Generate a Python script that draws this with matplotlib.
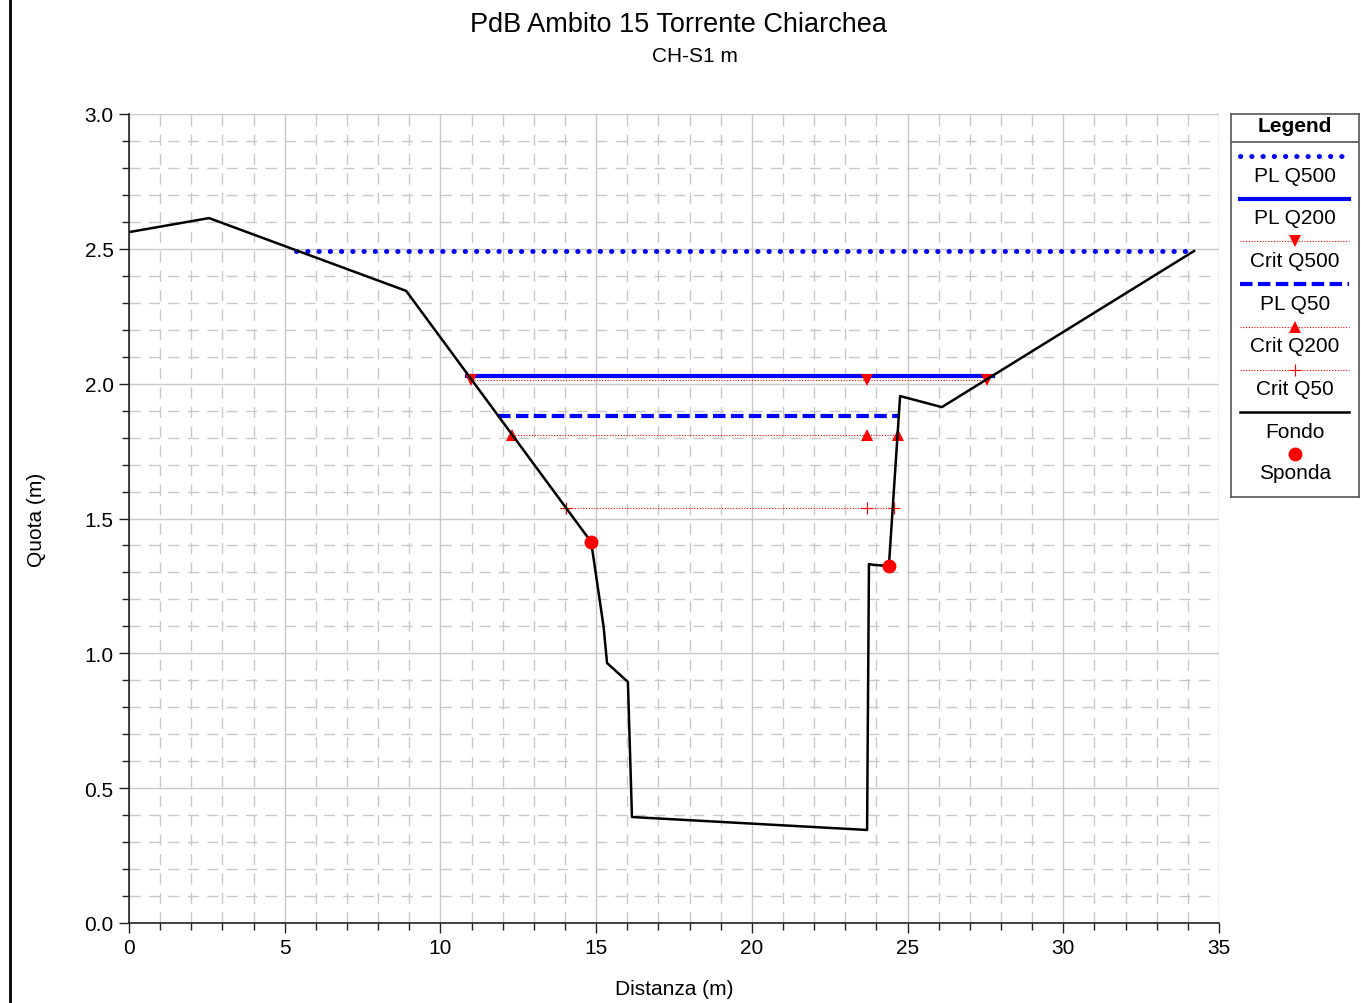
import numpy as np
import matplotlib.pyplot as plt
from matplotlib.lines import Line2D
from matplotlib.ticker import MultipleLocator

plt.rcParams['font.family'] = ['Liberation Sans', 'DejaVu Sans']

# ground profile (Fondo)
fondo_x = [0.0, 2.57, 8.9, 14.84, 15.24, 15.35, 16.02, 16.15, 23.7, 23.76, 23.9, 24.4, 24.76, 26.1, 34.2]
fondo_y = [2.562, 2.614, 2.344, 1.413, 1.098, 0.964, 0.894, 0.393, 0.345, 1.331, 1.328, 1.324, 1.954, 1.913, 2.492]

# bank points (Sponda)
sponda_x = [14.84, 24.4]
sponda_y = [1.413, 1.324]

# water levels
pl_q500_x = [5.36, 34.1]
pl_q500_y = [2.492, 2.492]
pl_q200_x = [10.85, 27.75]
pl_q200_y = [2.028, 2.028]
pl_q50_x = [11.85, 24.73]
pl_q50_y = [1.880, 1.880]

# critical depths
crit_q500_x = [10.98, 23.7, 27.55]
crit_q500_y = [2.014, 2.014, 2.014]
crit_q200_x = [12.3, 23.7, 24.69]
crit_q200_y = [1.81, 1.81, 1.81]
crit_q50_x = [14.03, 23.7, 24.57]
crit_q50_y = [1.539, 1.539, 1.539]

styles = {
    'PL Q500': dict(color='#0000ff', lw=3.6, linestyle=(0, (0.05, 2.2)), dash_capstyle='round'),
    'PL Q200': dict(color='#0000ff', lw=3, linestyle='-'),
    'Crit Q500': dict(color='#ff0000', lw=0.8, linestyle=(0, (1, 1.5)), marker='v', ms=8, mew=0),
    'PL Q50': dict(color='#0000ff', lw=3, linestyle=(0, (3, 1.3))),
    'Crit Q200': dict(color='#ff0000', lw=0.8, linestyle=(0, (1, 1.5)), marker='^', ms=8, mew=0),
    'Crit Q50': dict(color='#ff0000', lw=0.8, linestyle=(0, (1, 1.5)), marker='+', ms=8, mew=0.8),
    'Fondo': dict(color='black', lw=1.8, linestyle='-'),
    'Sponda': dict(color='#ff0000', lw=0, marker='o', ms=10, mew=0),
}

fs = 15

fig = plt.figure(figsize=(13.61, 10.04), dpi=100)
ax = fig.add_axes([129 / 1361, 1 - 924 / 1004, 1090 / 1361, 809 / 1004])

ax.plot(pl_q500_x, pl_q500_y, **styles['PL Q500'])
ax.plot(pl_q200_x, pl_q200_y, **styles['PL Q200'])
ax.plot(pl_q50_x, pl_q50_y, **styles['PL Q50'])
ax.plot(crit_q500_x, crit_q500_y, **styles['Crit Q500'])
ax.plot(crit_q200_x, crit_q200_y, **styles['Crit Q200'])
ax.plot(crit_q50_x, crit_q50_y, **styles['Crit Q50'])
ax.plot(fondo_x, fondo_y, **styles['Fondo'])
ax.plot(sponda_x, sponda_y, **styles['Sponda'], zorder=5)

ax.set_xlim(0, 35)
ax.set_ylim(0, 3)
ax.xaxis.set_major_locator(MultipleLocator(5))
ax.xaxis.set_minor_locator(MultipleLocator(1))
ax.yaxis.set_major_locator(MultipleLocator(0.5))
ax.yaxis.set_minor_locator(MultipleLocator(0.1))
ax.yaxis.set_major_formatter(plt.FormatStrFormatter('%.1f'))
ax.grid(which='major', color='#c8c8c8', lw=1, linestyle='-')
ax.grid(which='minor', color='#c8c8c8', lw=1, linestyle=(0, (8, 6)))
ax.set_axisbelow(True)
for s in ['top', 'right']:
    ax.spines[s].set_visible(False)
for s in ['left', 'bottom']:
    ax.spines[s].set_color('#222222')
    ax.spines[s].set_linewidth(1.2)
ax.tick_params(which='major', length=7, width=1, labelsize=fs, colors='#222222', labelcolor='black', pad=4)
ax.tick_params(which='minor', length=5, width=1, colors='#222222')
ax.set_xlabel('Distanza (m)', fontsize=fs, labelpad=16)
ax.set_ylabel('Quota (m)', fontsize=fs, labelpad=28)

fig.text(678 / 1361, 1 - 25 / 1004, 'PdB Ambito 15 Torrente Chiarchea', ha='center', va='center', fontsize=19.5)
fig.text(695 / 1361, 1 - 56 / 1004, 'CH-S1 m', ha='center', va='center', fontsize=fs)

# left border line
fig.add_artist(Line2D([10 / 1361, 10 / 1361], [0, 1], transform=fig.transFigure, color='black', lw=2))

# legend panel drawn by hand: sample above label
lg = fig.add_axes([1231 / 1361, 1 - 498 / 1004, 128 / 1361, 383 / 1004])
lg.set_xlim(0, 128)
lg.set_ylim(383, 0)
lg.set_xticks([])
lg.set_yticks([])
for s in lg.spines.values():
    s.set_color('#555555')
    s.set_linewidth(1.2)
lg.text(64, 12, 'Legend', ha='center', va='center', fontsize=fs, fontweight='bold')
lg.plot([0, 128], [28, 28], color='#555555', lw=1.2)

names = ['PL Q500', 'PL Q200', 'Crit Q500', 'PL Q50', 'Crit Q200', 'Crit Q50', 'Fondo']
for i, name in enumerate(names):
    yl = 42 + i * 42.7
    st = dict(styles[name])
    marker = st.pop('marker', None)
    ms = st.pop('ms', None)
    mew = st.pop('mew', None)
    lg.plot([9, 118], [yl, yl], **st)
    if marker:
        lg.plot([64], [yl], linestyle='none', marker=marker, ms=ms, mew=mew, color=st['color'])
    lg.text(64, yl + 19, name, ha='center', va='center', fontsize=fs)
st = styles['Sponda']
lg.plot([64], [340], linestyle='none', marker='o', ms=st['ms'], mew=0, color=st['color'])
lg.text(64, 359, 'Sponda', ha='center', va='center', fontsize=fs)

fig.savefig('out.png', dpi=100)
